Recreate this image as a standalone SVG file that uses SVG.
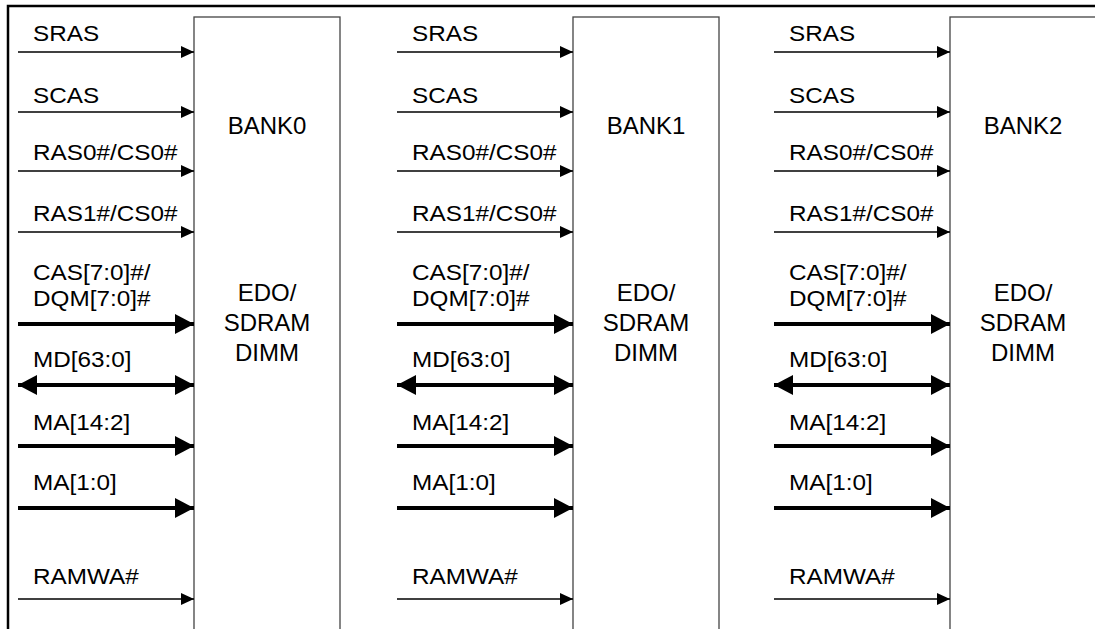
<svg xmlns="http://www.w3.org/2000/svg" width="1095" height="629" viewBox="0 0 1095 629">
<style>
.frame{fill:none;stroke:#000;stroke-width:2.5}
.bank{fill:#fff;stroke:#444;stroke-width:1.3}
.thin{stroke:#000;stroke-width:1.3;fill:none}
.thick{stroke:#000;stroke-width:4;fill:none}
.lbl{font-family:"Liberation Sans",Arial,sans-serif;font-size:21.5px;fill:#000}
.btxt{font-family:"Liberation Sans",Arial,sans-serif;font-size:24px;fill:#000;text-anchor:middle}
</style>
<defs>
<marker id="ah" markerUnits="userSpaceOnUse" markerWidth="14" markerHeight="14" refX="13" refY="6" orient="auto" viewBox="0 0 14 12">
<path d="M0,0 L13,6 L0,12 Z" fill="#000"/>
</marker>
<marker id="ahT" markerUnits="userSpaceOnUse" markerWidth="20" markerHeight="20" refX="19" refY="10" orient="auto" viewBox="0 0 20 20">
<path d="M0,0 L19,10 L0,20 Z" fill="#000"/>
</marker>
<marker id="ahTs" markerUnits="userSpaceOnUse" markerWidth="20" markerHeight="20" refX="19" refY="10" orient="auto-start-reverse" viewBox="0 0 20 20">
<path d="M0,0 L19,10 L0,20 Z" fill="#000"/>
</marker>
</defs>
<rect class="frame" x="8" y="6" width="1200" height="700"/>
<g id="bank0" transform="translate(0,0)">
<rect class="bank" x="194" y="17" width="146" height="700"/>
<text class="btxt" x="267" y="134">BANK0</text>
<text class="btxt" x="267" y="301">EDO/</text>
<text class="btxt" x="267" y="331">SDRAM</text>
<text class="btxt" x="267" y="361">DIMM</text>
</g>
<g id="bank1" transform="translate(379,0)">
<rect class="bank" x="194" y="17" width="146" height="700"/>
<text class="btxt" x="267" y="134">BANK1</text>
<text class="btxt" x="267" y="301">EDO/</text>
<text class="btxt" x="267" y="331">SDRAM</text>
<text class="btxt" x="267" y="361">DIMM</text>
</g>
<g id="bank2" transform="translate(756,0)">
<rect class="bank" x="194" y="17" width="146" height="700"/>
<text class="btxt" x="267" y="134">BANK2</text>
<text class="btxt" x="267" y="301">EDO/</text>
<text class="btxt" x="267" y="331">SDRAM</text>
<text class="btxt" x="267" y="361">DIMM</text>
</g>
<g id="connectors">
<g id="sig0">
<path class="thin" d="M18,52 H194" marker-end="url(#ah)"/>
<path class="thin" d="M18,112 H194" marker-end="url(#ah)"/>
<path class="thin" d="M18,171 H194" marker-end="url(#ah)"/>
<path class="thin" d="M18,232 H194" marker-end="url(#ah)"/>
<path class="thick" d="M18,324 H194" marker-end="url(#ahT)"/>
<path class="thick" d="M18,385 H194" marker-start="url(#ahTs)" marker-end="url(#ahTs)"/>
<path class="thick" d="M18,446 H194" marker-end="url(#ahT)"/>
<path class="thick" d="M18,508 H194" marker-end="url(#ahT)"/>
<path class="thin" d="M18,599 H194" marker-end="url(#ah)"/>
</g>
<use href="#sig0" transform="translate(379,0)"/>
<use href="#sig0" transform="translate(756,0)"/>
</g>
<g id="labels0" transform="scale(1.13,1)">
<text class="lbl" x="29.2" y="41">SRAS</text>
<text class="lbl" x="29.2" y="103">SCAS</text>
<text class="lbl" x="29.2" y="160">RAS0#/CS0#</text>
<text class="lbl" x="29.2" y="221">RAS1#/CS0#</text>
<text class="lbl" x="29.2" y="280">CAS[7:0]#/</text>
<text class="lbl" x="29.2" y="306">DQM[7:0]#</text>
<text class="lbl" x="29.2" y="367">MD[63:0]</text>
<text class="lbl" x="29.2" y="430">MA[14:2]</text>
<text class="lbl" x="29.2" y="490">MA[1:0]</text>
<text class="lbl" x="29.2" y="584">RAMWA#</text>
</g>
<use href="#labels0" transform="translate(379,0)"/>
<use href="#labels0" transform="translate(756,0)"/>
</svg>
